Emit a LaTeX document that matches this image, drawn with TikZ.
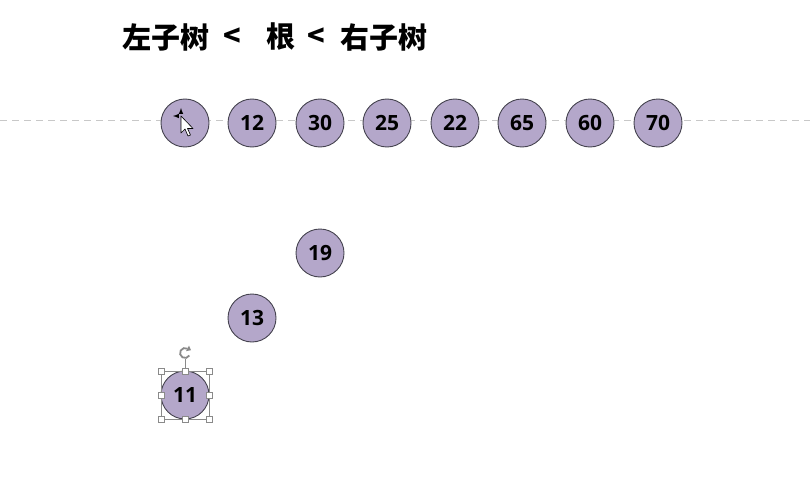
\documentclass[tikz,border=0pt]{standalone}
\usepackage{fontspec}
\setmainfont{Open Sans}
\newfontfamily\cjk{Noto Sans CJK SC}
\definecolor{ndFill}{HTML}{B4A7CA}
\definecolor{ndLine}{HTML}{45434F}
\definecolor{gdLine}{HTML}{C8C8C8}
\definecolor{selLine}{HTML}{8A8A8A}
\tikzset{
  numnode/.style={circle, draw=ndLine, fill=ndFill, line width=0.9pt,
    minimum size=48pt, inner sep=0pt, font=\fontsize{21}{21}\selectfont\bfseries},
  ttl/.style={inner sep=0pt, font=\cjk\bfseries\fontsize{29}{29}\selectfont},
  handle/.style={draw=selLine, fill=white, line width=0.5pt,
    minimum size=6pt, inner sep=0pt, rectangle}
}
\begin{document}
\begin{tikzpicture}[x=1pt, y=-1pt]
  \useasboundingbox (0,0) rectangle (810,492);

  % title
  \node[ttl] (tL) at (166,37) {左子树};
  \node[ttl] (lt1) at (232,37) {<};
  \node[ttl] (tR) at (281,37) {根};
  \node[ttl] (lt2) at (316,37) {<};
  \node[ttl] (tG) at (384,37) {右子树};

  % dashed guide line
  \coordinate (gL) at (0,120);
  \coordinate (gR) at (810,120);
  \draw[gdLine, dashed, dash pattern=on 7pt off 5pt, line width=0.8pt] (gL) -- (gR);

  % the sequence row
  \foreach \i/\x/\t in {1/185/, 2/252/12, 3/320/30, 4/387/25,
                        5/455/22, 6/522/65, 7/590/60, 8/658/70} {
    \node[numnode] (n\i) at (\x,123) {\t};
  }

  % nodes being placed
  \node[numnode] (a19) at (320,253) {19};
  \node[numnode] (a13) at (252,318) {13};
  \node[numnode] (a11) at (185,395) {11};

  % selection frame round 11
  \draw[selLine, line width=0.5pt] (161,371) rectangle (209,419);
  \coordinate (rotH) at (185,353);
  \draw[selLine, line width=0.5pt] (185,371) -- (185,358.5);
  \foreach \p in {(161,371), (185,371), (209,371), (161,395),
                  (209,395), (161,419), (185,419), (209,419)} {
    \node[handle] at \p {};
  }
  \draw[selLine, line width=1.8pt] ([shift={(60:5pt)}]rotH) arc[start angle=60, end angle=330, radius=5pt];
  \fill[selLine] ([shift={(60:5pt)}]rotH) ++(-1.5pt,-2.5pt) -- ++(5pt,1pt) -- ++(-2pt,4.5pt) -- cycle;

  % mouse pointer over the first node
  \coordinate (cur) at (181,116);
  \draw[black, fill=white, line width=0.6pt, line join=round] (cur) -- ++(0,17) -- ++(4,-4)
    -- ++(3,7) -- ++(2.5,-1) -- ++(-3,-6.5) -- ++(5.5,0) -- cycle;
  \draw[black, line width=1pt, -latex] (cur) ++(0,-2) -- ++(0,-6);
  \draw[black, line width=1pt, -latex] (cur) ++(-2,0) -- ++(-6,0);
\end{tikzpicture}
\end{document}
